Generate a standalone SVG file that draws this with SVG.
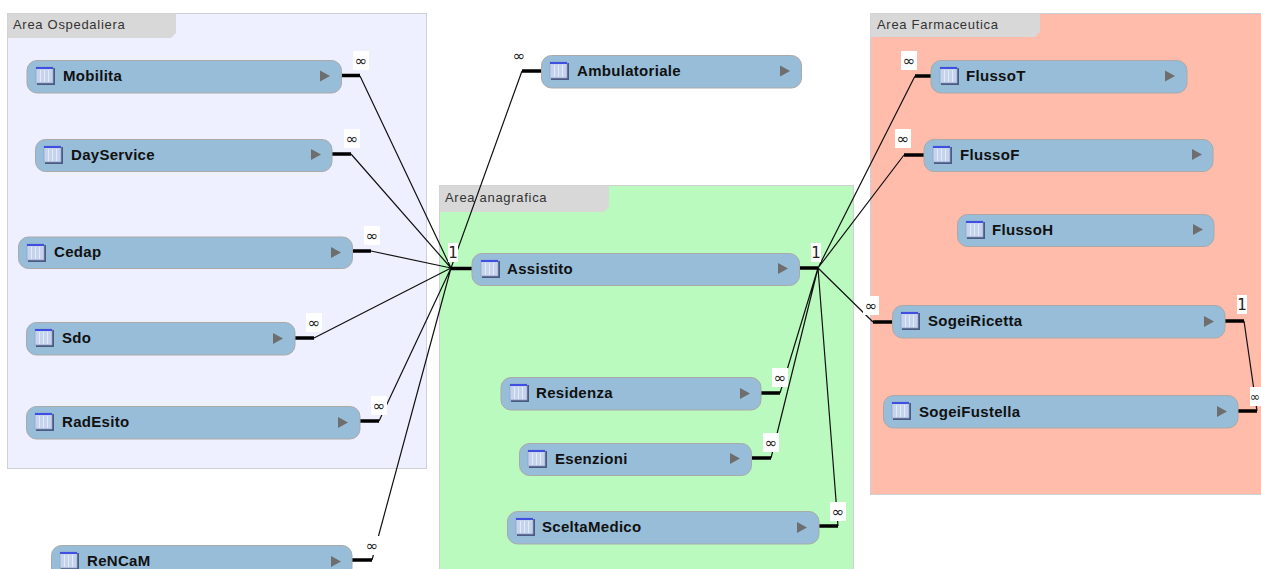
<svg xmlns="http://www.w3.org/2000/svg" width="1261" height="569" viewBox="0 0 1261 569">
<style>
.area{stroke:#cfcfd6;stroke-width:1}
.tab{fill:#d8d8d8}
.al{font:13px "Liberation Sans",Arial,sans-serif;fill:#333;letter-spacing:.7px}
.box{fill:#97bdd8;stroke:#a9a9a9;stroke-width:1}
.t{font:bold 15px "Liberation Sans",Arial,sans-serif;fill:#111;letter-spacing:.3px}
.arrow{fill:#6e6e6e}
.th{stroke:#000;stroke-width:3.500;fill:none}
.tn{stroke:#111;stroke-width:1.200;fill:none}
.lb{fill:#fff}
.c{font:15px "DejaVu Sans",sans-serif;fill:#222;text-anchor:middle}
</style>
<defs>
<g id="ic">
<rect x="1" y="1" width="18" height="17" fill="#4a5a80"/>
<rect x="0" y="0" width="17" height="16" fill="#c5d3ec" stroke="#8fa2c8" stroke-width=".7"/>
<rect x="0" y="0" width="17" height="2" fill="#3f4fe0"/>
<path d="M4.500 3V15M8.500 3V15M12.500 3V15" stroke="#e4ebf8" stroke-width="1"/>
</g>
</defs>
<g id="area-ospedaliera">
<rect class="area" x="7.500" y="13.500" width="419" height="455" fill="#eeefff"/>
<path class="tab" d="M7.500 13.500H176V33L171 38H7.500Z"/>
<text class="al" x="13" y="29">Area Ospedaliera</text>
</g>
<g id="area-anagrafica">
<rect class="area" x="439.500" y="185.500" width="414" height="400" fill="#bbfabf"/>
<path class="tab" d="M439.500 185.500H609V207L604 212H439.500Z"/>
<text class="al" x="445" y="202">Area anagrafica</text>
</g>
<g id="area-farmaceutica">
<rect class="area" x="870.500" y="13.500" width="400" height="481" fill="#ffbcab"/>
<path class="tab" d="M870.500 13.500H1040V32L1035 37H870.500Z"/>
<text class="al" x="877" y="29">Area Farmaceutica</text>
</g>
<g id="connectors">
<path class="tn" d="M360 76L451 268M351 154L451 268M371 251L451 268M314 338L451 268M379 421L451 268M372 560L451 268M522 71L451 268"/>
<path class="th" d="M342 75.500H360M332 154H351M352 251H371M295 338H314M360 421H379M352 560H372M451 268.500H472M541 71H522"/>
<path class="tn" d="M915 76L818 268M904 155L818 268M780 393L818 268M771 458L818 268M838 526L818 268M873 322L818 268"/>
<path class="th" d="M931 76H915M924 155H904M761 393H780M751 458H771M819 526H838M892 322H873M800 268H818"/>
<path class="tn" d="M1244 321L1257 411"/>
<path class="th" d="M1225 321H1244M1238 411H1257"/>
<g id="cardinalities">
<rect class="lb" x="353" y="51" width="16" height="19"/><text class="c" x="361" y="66">∞</text>
<rect class="lb" x="344" y="129" width="16" height="19"/><text class="c" x="352" y="144">∞</text>
<rect class="lb" x="364" y="226" width="16" height="19"/><text class="c" x="372" y="241">∞</text>
<rect class="lb" x="306" y="313" width="16" height="19"/><text class="c" x="314" y="328">∞</text>
<rect class="lb" x="371" y="396" width="16" height="19"/><text class="c" x="379" y="411">∞</text>
<rect class="lb" x="364" y="536" width="16" height="19"/><text class="c" x="372" y="551">∞</text>
<rect class="lb" x="511" y="46" width="16" height="19"/><text class="c" x="519" y="61">∞</text>
<rect class="lb" x="448" y="243" width="10" height="19"/><text class="c" x="453" y="258">1</text>
<rect class="lb" x="811" y="243" width="10" height="19"/><text class="c" x="816" y="258">1</text>
<rect class="lb" x="901" y="51" width="16" height="19"/><text class="c" x="909" y="66">∞</text>
<rect class="lb" x="895" y="129" width="16" height="19"/><text class="c" x="903" y="144">∞</text>
<rect class="lb" x="863" y="296" width="16" height="19"/><text class="c" x="871" y="311">∞</text>
<rect class="lb" x="772" y="368" width="16" height="19"/><text class="c" x="780" y="383">∞</text>
<rect class="lb" x="763" y="433" width="16" height="19"/><text class="c" x="771" y="448">∞</text>
<rect class="lb" x="830" y="502" width="16" height="19"/><text class="c" x="838" y="517">∞</text>
<rect class="lb" x="1237" y="295" width="10" height="19"/><text class="c" x="1242" y="310">1</text>
<rect class="lb" x="1250" y="387" width="11" height="19"/><text class="c" x="1255" y="401" style="font-size:12.500px">∞</text>
</g>
</g>
<g id="mobilita"><rect class="box" x="27" y="60.500" width="314.500" height="32.500" rx="10"/><use href="#ic" x="36" y="67"/><text class="t" x="63" y="81">Mobilita</text><path class="arrow" d="M320 70.500L330 76L320 81.500Z"/></g>
<g id="dayservice"><rect class="box" x="35.500" y="139.500" width="296.500" height="32" rx="10"/><use href="#ic" x="44" y="146"/><text class="t" x="71" y="160">DayService</text><path class="arrow" d="M311 149L321 154.500L311 160Z"/></g>
<g id="cedap"><rect class="box" x="18.500" y="237" width="334" height="31.500" rx="10"/><use href="#ic" x="27" y="244"/><text class="t" x="54" y="257">Cedap</text><path class="arrow" d="M331 247L341 252.500L331 258Z"/></g>
<g id="sdo"><rect class="box" x="26.500" y="322.500" width="268.500" height="32.500" rx="10"/><use href="#ic" x="35" y="329"/><text class="t" x="62" y="343">Sdo</text><path class="arrow" d="M273 333L283 338.500L273 344Z"/></g>
<g id="radesito"><rect class="box" x="26.500" y="406.500" width="333.500" height="32.500" rx="10"/><use href="#ic" x="35" y="413"/><text class="t" x="62" y="427">RadEsito</text><path class="arrow" d="M338 417L348 422.500L338 428Z"/></g>
<g id="rencam"><rect class="box" x="51.500" y="545.500" width="300.500" height="32.500" rx="10"/><use href="#ic" x="60" y="552"/><text class="t" x="87" y="566">ReNCaM</text><path class="arrow" d="M331 556L341 561.500L331 567Z"/></g>
<g id="ambulatoriale"><rect class="box" x="541.500" y="55.500" width="260" height="32.500" rx="10"/><use href="#ic" x="550" y="62"/><text class="t" x="577" y="76">Ambulatoriale</text><path class="arrow" d="M780 65.500L790 71L780 76.500Z"/></g>
<g id="assistito"><rect class="box" x="472" y="253.500" width="327.500" height="32" rx="10"/><use href="#ic" x="481" y="260"/><text class="t" x="507" y="274">Assistito</text><path class="arrow" d="M778 263L788 268.500L778 274Z"/></g>
<g id="residenza"><rect class="box" x="501" y="377.500" width="260" height="32.500" rx="10"/><use href="#ic" x="510" y="384"/><text class="t" x="536" y="398">Residenza</text><path class="arrow" d="M740 388L750 393.500L740 399Z"/></g>
<g id="esenzioni"><rect class="box" x="519.500" y="443.500" width="232" height="32" rx="10"/><use href="#ic" x="528" y="450"/><text class="t" x="555" y="464">Esenzioni</text><path class="arrow" d="M730 453L740 458.500L730 464Z"/></g>
<g id="sceltamedico"><rect class="box" x="507.500" y="511.500" width="311.500" height="32.500" rx="10"/><use href="#ic" x="516" y="518"/><text class="t" x="542" y="532">SceltaMedico</text><path class="arrow" d="M797 522L807 527.500L797 533Z"/></g>
<g id="flussot"><rect class="box" x="931" y="60.500" width="256" height="32.500" rx="10"/><use href="#ic" x="940" y="67"/><text class="t" x="966" y="81">FlussoT</text><path class="arrow" d="M1165 70.500L1175 76L1165 81.500Z"/></g>
<g id="flussof"><rect class="box" x="924" y="139.500" width="289" height="32" rx="10"/><use href="#ic" x="933" y="146"/><text class="t" x="960" y="160">FlussoF</text><path class="arrow" d="M1192 149L1202 154.500L1192 160Z"/></g>
<g id="flussoh"><rect class="box" x="957.500" y="214.500" width="256.500" height="32" rx="10"/><use href="#ic" x="966" y="221"/><text class="t" x="992" y="235">FlussoH</text><path class="arrow" d="M1193 224L1203 229.500L1193 235Z"/></g>
<g id="sogeiricetta"><rect class="box" x="892.500" y="305.500" width="332.500" height="32.500" rx="10"/><use href="#ic" x="901" y="312"/><text class="t" x="928" y="326">SogeiRicetta</text><path class="arrow" d="M1204 316L1214 321.500L1204 327Z"/></g>
<g id="sogeifustella"><rect class="box" x="883.500" y="395.500" width="354.500" height="32.500" rx="10"/><use href="#ic" x="892" y="402"/><text class="t" x="919" y="417">SogeiFustella</text><path class="arrow" d="M1217 406L1227 411.500L1217 417Z"/></g>
</svg>
